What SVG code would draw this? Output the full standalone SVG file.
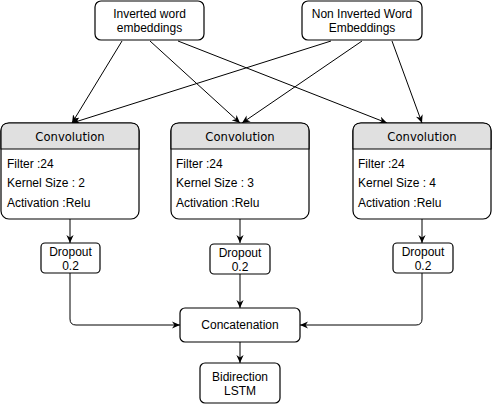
<svg xmlns="http://www.w3.org/2000/svg" width="492" height="404" viewBox="0 0 492 404">
<style>
.box{fill:#fff;stroke:#000;stroke-width:1.2}
.hdr{fill:#e0e0e0;stroke:#000;stroke-width:1.2}
.t{font-family:"Liberation Sans",Arial,sans-serif;font-size:12px;fill:#000}
.c{text-anchor:middle}
.h{font-family:"DejaVu Sans",Verdana,sans-serif;font-size:11.6px;fill:#000;text-anchor:middle}
.ln{fill:none;stroke:#000;stroke-width:1}
</style>
<defs>
<marker id="ar" viewBox="0 0 10 10" refX="10" refY="5" markerWidth="8" markerHeight="8" markerUnits="userSpaceOnUse" orient="auto">
<path d="M0,0.5 L10,5 L0,9.5 L3,5 z" fill="#000"/>
</marker>
</defs>
<g id="connectors" class="ln" marker-end="url(#ar)">
<path d="M122,41 L72,123"/>
<path d="M150,41 L240,123"/>
<path d="M178,41 L387,123"/>
<path d="M331,41 L72,123"/>
<path d="M362,41 L242,123"/>
<path d="M392,41 L422,123"/>
<path d="M70,219 V243"/>
<path d="M240,219 V243"/>
<path d="M422,219 V243"/>
<path d="M70,273 V319 Q70,325 76,325 H180"/>
<path d="M240,274 V308"/>
<path d="M422,273 V319 Q422,325 416,325 H300"/>
<path d="M240,342 V363"/>
</g>
<g id="inverted">
<rect class="box" x="95" y="1" width="109" height="39" rx="6"/>
<text class="t c" x="149.5" y="18">Inverted word</text>
<text class="t c" x="149.5" y="32">embeddings</text>
</g>
<g id="noninverted">
<rect class="box" x="302" y="1" width="120" height="39" rx="6"/>
<text class="t c" x="362" y="18">Non Inverted Word</text>
<text class="t c" x="362" y="32">Embeddings</text>
</g>
<g id="conv1">
<rect class="box" x="1" y="123" width="138" height="96" rx="8"/>
<path class="hdr" d="M1,149 V131 Q1,123 9,123 H131 Q139,123 139,131 V149 Z"/>
<text class="h" x="70" y="141">Convolution</text>
<text class="t" x="7" y="167.5">Filter :24</text>
<text class="t" x="7" y="187">Kernel Size : 2</text>
<text class="t" x="7" y="207">Activation :Relu</text>
</g>
<g id="conv2">
<rect class="box" x="171" y="123" width="138" height="96" rx="8"/>
<path class="hdr" d="M171,149 V131 Q171,123 179,123 H301 Q309,123 309,131 V149 Z"/>
<text class="h" x="240" y="141">Convolution</text>
<text class="t" x="176" y="167.5">Filter :24</text>
<text class="t" x="176" y="187">Kernel Size : 3</text>
<text class="t" x="176" y="207">Activation :Relu</text>
</g>
<g id="conv3">
<rect class="box" x="353" y="123" width="138" height="96" rx="8"/>
<path class="hdr" d="M353,149 V131 Q353,123 361,123 H483 Q491,123 491,131 V149 Z"/>
<text class="h" x="422" y="141">Convolution</text>
<text class="t" x="358" y="167.5">Filter :24</text>
<text class="t" x="358" y="187">Kernel Size : 4</text>
<text class="t" x="358" y="207">Activation :Relu</text>
</g>
<g id="dropout1">
<rect class="box" x="41" y="243" width="59" height="30" rx="4"/>
<text class="t c" x="70.5" y="256">Dropout</text>
<text class="t c" x="70.5" y="270">0.2</text>
</g>
<g id="dropout2">
<rect class="box" x="210" y="244" width="60" height="30" rx="4"/>
<text class="t c" x="240" y="257">Dropout</text>
<text class="t c" x="240" y="271">0.2</text>
</g>
<g id="dropout3">
<rect class="box" x="393" y="243" width="60" height="30" rx="4"/>
<text class="t c" x="423" y="256">Dropout</text>
<text class="t c" x="423" y="270">0.2</text>
</g>
<g id="concat">
<rect class="box" x="180" y="308" width="120" height="34" rx="5"/>
<text class="t c" x="240" y="329">Concatenation</text>
</g>
<g id="lstm">
<rect class="box" x="200" y="363" width="80" height="40" rx="5"/>
<text class="t c" x="240" y="381">Bidirection</text>
<text class="t c" x="240" y="395">LSTM</text>
</g>
</svg>
